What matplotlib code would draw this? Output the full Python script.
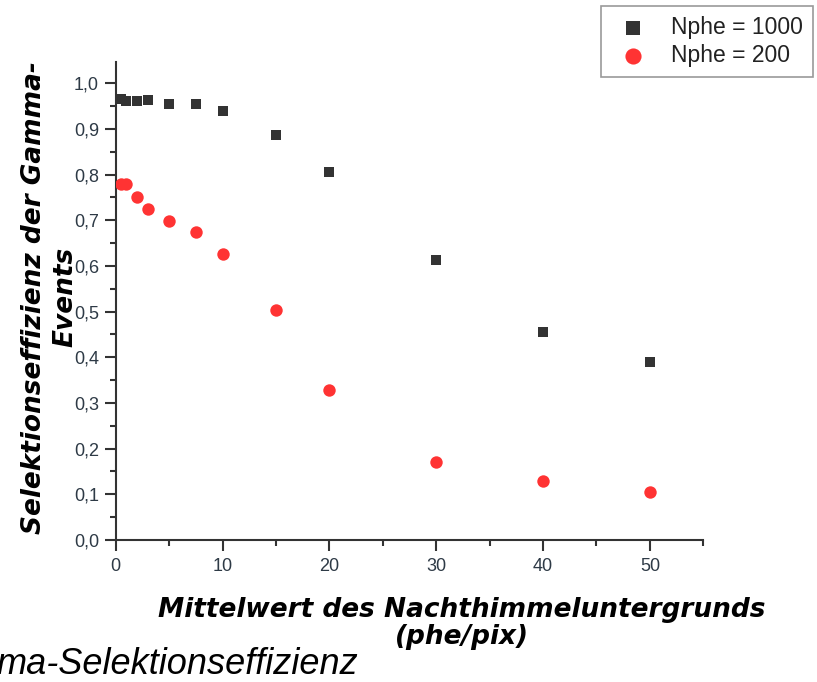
import matplotlib
matplotlib.use("Agg")
import matplotlib.pyplot as plt
from matplotlib.ticker import MultipleLocator, FuncFormatter

# Mean night-sky background (phe/pix)
background = [0.5, 1, 2, 3, 5, 7.5, 10, 15, 20, 30, 40, 50]
# Gamma selection efficiency for two shower sizes
eff_nphe_1000 = [0.965, 0.962, 0.962, 0.963, 0.954, 0.955, 0.939, 0.887, 0.806, 0.613, 0.455, 0.390]
eff_nphe_200 = [0.780, 0.780, 0.750, 0.725, 0.699, 0.675, 0.625, 0.504, 0.328, 0.170, 0.129, 0.106]
series_labels = ["Nphe = 1000", "Nphe = 200"]

W, H = 817, 682
fig = plt.figure(figsize=(W / 100, H / 100), dpi=100)
ax = fig.add_axes([115.7 / W, 1 - 540 / H, (703.3 - 115.7) / W, (540 - 61.7) / H])

axis_color = "#333333"
ax.scatter(background, eff_nphe_1000, marker="s", s=62, color="#333333",
           linewidths=0, label=series_labels[0], zorder=3)
ax.scatter(background, eff_nphe_200, marker="o", s=80, color="#ff3333",
           linewidths=0, label=series_labels[1], zorder=3)

ax.set_xlim(0, 55)
ax.set_ylim(0, 1.047)
ax.xaxis.set_major_locator(MultipleLocator(10))
ax.xaxis.set_minor_locator(MultipleLocator(5))
ax.yaxis.set_major_locator(MultipleLocator(0.1))
ax.yaxis.set_minor_locator(MultipleLocator(0.05))
ax.yaxis.set_major_formatter(FuncFormatter(lambda v, p: f"{v:.1f}".replace(".", ",")))

for side in ("top", "right"):
    ax.spines[side].set_visible(False)
for side in ("left", "bottom"):
    ax.spines[side].set_color(axis_color)
    ax.spines[side].set_linewidth(1.5)

ax.tick_params(which="major", direction="out", length=8, width=1.5, color=axis_color,
               labelcolor="#2e3a46", labelsize=13, pad=4)
ax.tick_params(which="minor", direction="out", length=4, width=1.5, color=axis_color)
for lbl in ax.get_xticklabels() + ax.get_yticklabels():
    lbl.set_fontfamily("Liberation Sans")
ax.tick_params(axis="x", which="major", pad=5)

label_font = dict(family="DejaVu Sans", weight="bold", style="oblique", size=19, color="black")
fig.text(462 / W, 1 - 610 / H, "Mittelwert des Nachthimmeluntergrunds",
         ha="center", va="center", **label_font)
fig.text(462 / W, 1 - 637 / H, "(phe/pix)", ha="center", va="center", **label_font)

fig.text(34 / W, 1 - 298 / H, "Selektionseffizienz der Gamma-", rotation=90,
         ha="center", va="center", **label_font)
fig.text(65 / W, 1 - 297 / H, "Events", rotation=90,
         ha="center", va="center", **label_font)

fig.text(358 / W, 1 - 665 / H, "ma-Selektionseffizienz", ha="right", va="center",
         family="Liberation Sans", style="italic", size=26, color="black")

leg = ax.legend(loc="upper right", bbox_to_anchor=(813 / W, 1 - 6 / H),
                bbox_transform=fig.transFigure, borderaxespad=0, fancybox=False,
                frameon=True, edgecolor="#808080", handletextpad=0.68,
                borderpad=0.45, labelspacing=0.2, handlelength=1.9, markerscale=1.3,
                prop={"family": "Liberation Sans", "size": 16.5})
leg.get_frame().set_linewidth(1.2)
for t in leg.get_texts():
    t.set_color("#222222")

fig.savefig("out.png", dpi=100)
